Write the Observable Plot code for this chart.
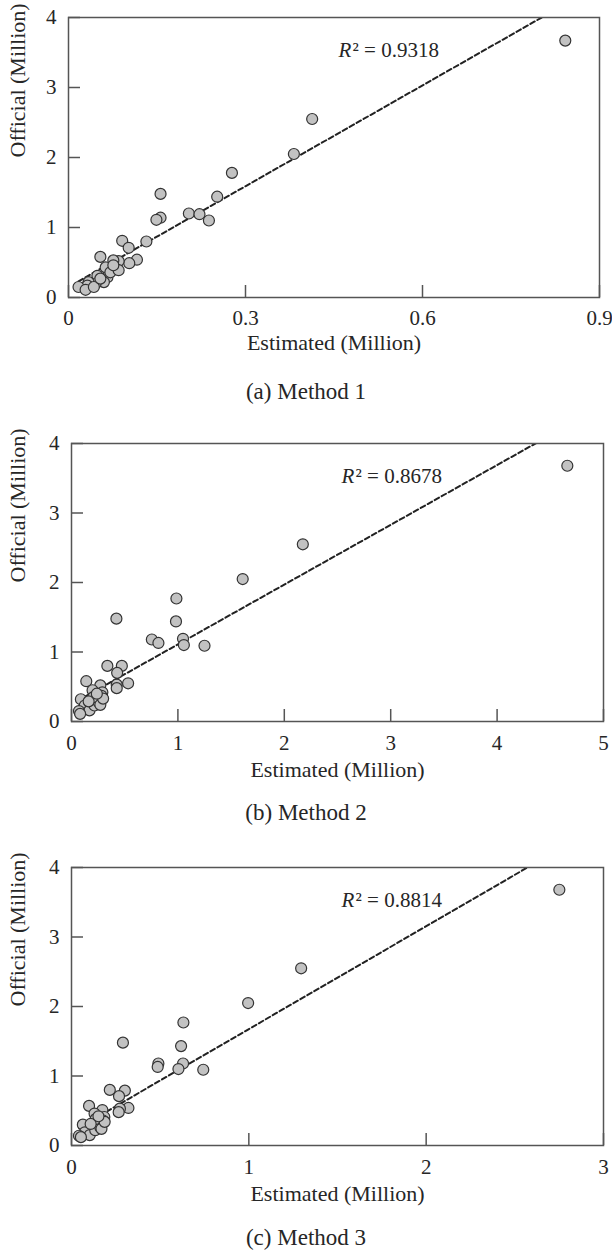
<!DOCTYPE html>
<html>
<head>
<meta charset="utf-8">
<script src="https://cdn.jsdelivr.net/npm/d3@7"></script>
<script src="https://cdn.jsdelivr.net/npm/@observablehq/plot@0.6"></script>
<style>
  html, body { margin: 0; padding: 0; background: #fff; }
  body { width: 612px; font-family: "Liberation Serif", "Times New Roman", serif; color: #262626; }
  .caption { text-align: center; font-size: 23px; }
  svg { display: block; }
</style>
</head>
<body>
<div id="fig1"></div>
<div class="caption" id="cap1" style="height:56px;line-height:44px;">(a) Method 1</div>
<div id="fig2"></div>
<div class="caption" id="cap2" style="height:54px;line-height:34px;">(b) Method 2</div>
<div id="fig3"></div>
<div class="caption" id="cap3" style="height:32px;line-height:36px;">(c) Method 3</div>
<script>
// ---- data ----
const yTicks = [0, 1, 2, 3, 4];
const xTicks1 = [0, 0.3, 0.6, 0.9];
const xTicks2 = [0, 1, 2, 3, 4, 5];
const xTicks3 = [0, 1, 2, 3];

const xLabel = "Estimated (Million)";
const yLabel = "Official (Million)";

const est1 = [0.842,0.413,0.382,0.277,0.156,0.252,0.156,0.149,0.204,0.222,0.238,0.132,0.091,0.102,0.116,0.103,0.085,0.076,0.054,0.080,0.063,0.066,0.049,0.060,0.046,0.034,0.032,0.017,0.029,0.043,0.054,0.071,0.085,0.076];
const off1 = [3.67,2.55,2.05,1.78,1.48,1.44,1.14,1.11,1.20,1.19,1.10,0.80,0.81,0.71,0.54,0.49,0.52,0.53,0.58,0.41,0.43,0.29,0.31,0.22,0.20,0.22,0.17,0.15,0.11,0.15,0.27,0.36,0.39,0.46];

const est2 = [4.66,2.174,1.609,0.986,0.422,0.982,0.755,0.817,1.048,1.056,1.25,0.337,0.473,0.429,0.532,0.425,0.425,0.139,0.271,0.29,0.198,0.282,0.088,0.125,0.07,0.169,0.216,0.253,0.205,0.161,0.271,0.081,0.297,0.238];
const off2 = [3.68,2.55,2.05,1.77,1.48,1.44,1.18,1.13,1.19,1.10,1.09,0.80,0.80,0.70,0.55,0.53,0.48,0.58,0.52,0.42,0.45,0.37,0.32,0.23,0.15,0.16,0.23,0.28,0.35,0.29,0.24,0.11,0.33,0.40];

const est3 = [2.751,1.295,0.996,0.631,0.290,0.618,0.490,0.486,0.629,0.603,0.743,0.216,0.301,0.268,0.321,0.273,0.266,0.099,0.174,0.185,0.130,0.178,0.064,0.075,0.042,0.103,0.134,0.163,0.136,0.108,0.169,0.053,0.187,0.152];
const off3 = [3.68,2.55,2.05,1.77,1.48,1.43,1.18,1.13,1.18,1.10,1.09,0.80,0.79,0.71,0.54,0.53,0.48,0.57,0.51,0.41,0.46,0.36,0.30,0.19,0.14,0.15,0.22,0.26,0.38,0.31,0.24,0.12,0.34,0.42];

// fitted trend lines (slope, intercept) and R²
const fitSlope = [4.8, 0.86, 1.48];
const fitIntercept = [0.15, 0.25, 0.195];
const r2Values = ["0.9318", "0.8678", "0.8814"];

// ---- drawing ----
const FONT = "'Liberation Serif', 'Times New Roman', serif";
const INK = "#262626";
const AXIS = "#555";

function panel(cfg) {
  const pts = cfg.est.map((e, i) => ({est: e, off: cfg.off[i]}));
  const x0 = d3.min(cfg.est);
  const x1 = cfg.xDomain[1];
  const fit = [x0, x1].map(x => ({est: x, off: cfg.slope * x + cfg.intercept}));
  return Plot.plot({
    width: 612,
    height: 370,
    marginTop: 17,
    marginBottom: cfg.marginBottom,
    marginLeft: cfg.marginLeft,
    marginRight: cfg.marginRight,
    style: {fontFamily: FONT, fontSize: "21px", color: INK, background: "white", overflow: "visible"},
    x: {domain: cfg.xDomain},
    y: {domain: [0, 4]},
    marks: [
      Plot.line(fit, {x: "est", y: "off", stroke: "#222", strokeWidth: 2, strokeDasharray: "5,3", clip: true}),
      Plot.dot(pts, {x: "est", y: "off", r: 5.5, fill: "#c2c2c2", stroke: "#333", strokeWidth: 1.2}),
      Plot.frame({stroke: AXIS, strokeWidth: 1.5}),
      Plot.axisX({ticks: cfg.xTicks, tickFormat: d => String(d), tickSize: -12, tickPadding: cfg.xPad, stroke: AXIS, strokeWidth: 1.5, fill: INK, label: null}),
      Plot.axisY({ticks: yTicks, tickFormat: d => String(d), tickSize: -12, tickPadding: 24, stroke: AXIS, strokeWidth: 1.5, fill: INK, label: null}),
      Plot.text([xLabel], {frameAnchor: "bottom", dy: cfg.xLabelDy, fontSize: 22, fill: INK, text: d => d}),
      Plot.text([yLabel], {frameAnchor: "left", rotate: -90, dx: -cfg.yLabelDx, fontSize: 22, fill: INK, text: d => d}),
      Plot.text([cfg.r2], {frameAnchor: "top-left", textAnchor: "start", dx: 270, dy: 25, fontSize: 21, fontStyle: "italic", fill: INK, text: () => "R"}),
      Plot.text([cfg.r2], {frameAnchor: "top-left", textAnchor: "start", dx: 284, dy: 25, fontSize: 21, fill: INK, text: d => "\u00B2 = " + d})
    ]
  });
}

document.getElementById("fig1").append(panel({
  est: est1, off: off1, xDomain: [0, 0.9], xTicks: xTicks1,
  slope: fitSlope[0], intercept: fitIntercept[0], r2: r2Values[0],
  marginLeft: 68, marginRight: 13, marginBottom: 73, xPad: 25, xLabelDy: 52, yLabelDx: 51
}));
document.getElementById("fig2").append(panel({
  est: est2, off: off2, xDomain: [0, 5], xTicks: xTicks2,
  slope: fitSlope[1], intercept: fitIntercept[1], r2: r2Values[1],
  marginLeft: 71, marginRight: 9, marginBottom: 75, xPad: 26, xLabelDy: 55, yLabelDx: 54
}));
document.getElementById("fig3").append(panel({
  est: est3, off: off3, xDomain: [0, 3], xTicks: xTicks3,
  slope: fitSlope[2], intercept: fitIntercept[2], r2: r2Values[2],
  marginLeft: 71, marginRight: 9, marginBottom: 75, xPad: 26, xLabelDy: 55, yLabelDx: 54
}));
</script>
</body>
</html>
